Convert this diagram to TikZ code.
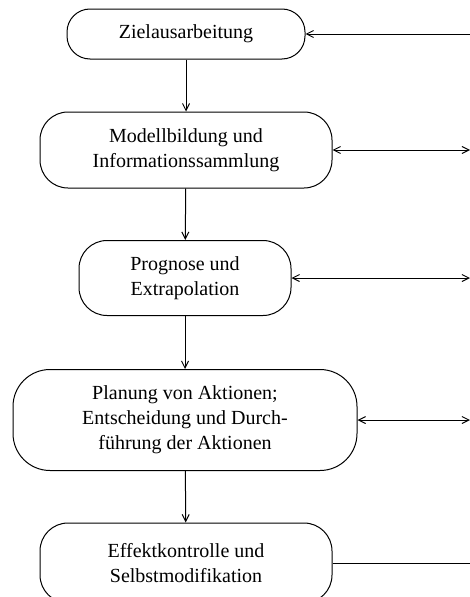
\documentclass[tikz,border=0pt]{standalone}
\usepackage{fontspec}
\setmainfont{Liberation Serif}
\usetikzlibrary{arrows.meta}
\tikzset{
    phase-box/.style = {draw, line width=1pt, rectangle, align=center, inner sep=0pt, font=\fontsize{20}{25}\selectfont},
    flow-arrow/.style = {line width=1pt, -{Straight Barb[length=7pt,width=7pt]}},
    feedback-arrow/.style = {line width=1pt, {Straight Barb[length=7pt,width=7pt]}-{Straight Barb[length=7pt,width=7pt]}},
}

\begin{document}
\begin{tikzpicture}[x=1pt,y=-1pt]
\useasboundingbox (0,0) rectangle (470,597);
\node [phase-box, minimum width=238pt, minimum height=50pt, rounded corners=23pt] (ziel) at (186,34) {Zielausarbeitung};
\node [phase-box, minimum width=292pt, minimum height=76pt, rounded corners=28pt] (modell) at (186,150) {Modellbildung und\\Informationssammlung};
\node [phase-box, minimum width=212pt, minimum height=75pt, rounded corners=28pt] (prognose) at (185,278) {Prognose und\\Extrapolation};
\node [phase-box, minimum width=344pt, minimum height=101pt, rounded corners=37pt] (planung) at (185,420) {Planung von Aktionen;\\Entscheidung und Durch-\\führung der Aktionen};
\node [phase-box, minimum width=292pt, minimum height=80pt, rounded corners=28pt] (effekt) at (186,563) {Effektkontrolle und\\Selbstmodifikation};

% rechter Rand (Rueckkopplung)
\coordinate (r-ziel) at (470,34);
\coordinate (r-modell) at (470,150);
\coordinate (r-prognose) at (470,278);
\coordinate (r-planung) at (470,420);
\coordinate (r-effekt) at (470,563);

\draw [flow-arrow] (ziel) -- (modell);
\draw [flow-arrow] (modell) -- (prognose);
\draw [flow-arrow] (prognose) -- (planung);
\draw [flow-arrow] (planung) -- (effekt);

\draw [flow-arrow] (r-ziel) -- (ziel);
\draw [feedback-arrow] (modell) -- (r-modell);
\draw [feedback-arrow] (prognose) -- (r-prognose);
\draw [feedback-arrow] (planung) -- (r-planung);
\draw [line width=1pt] (effekt) -- (r-effekt);
\end{tikzpicture}
\end{document}
